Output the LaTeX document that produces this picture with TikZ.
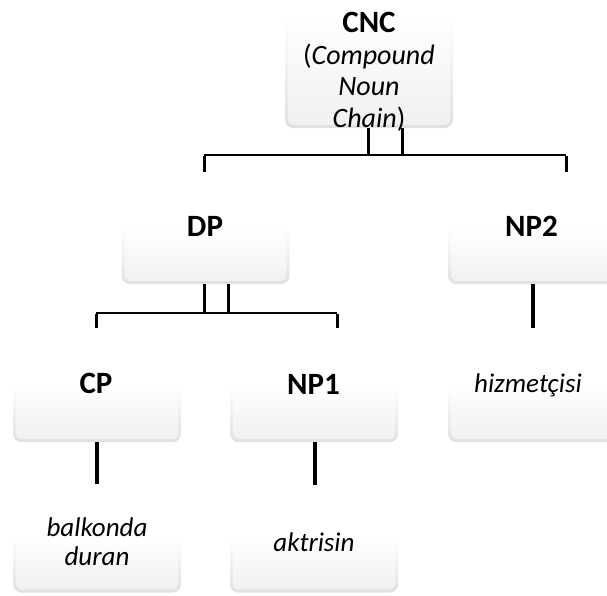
\documentclass[tikz,border=0pt]{standalone}
\usepackage{fontspec}
\setmainfont{Carlito}
\begin{document}
\begin{tikzpicture}[x=1pt,y=-1pt,
  box/.style={rounded corners=8pt, minimum width=168pt, minimum height=57pt,
    inner sep=0pt, top color=white, bottom color=black!12,
    path picture={
      \shade[top color=white, bottom color=black!6, rounded corners=6pt]
        ([shift={(3pt,-2pt)}]path picture bounding box.north west) rectangle
        ([shift={(-3pt,3pt)}]path picture bounding box.south east);
    }},
  head/.style={font=\fontsize{31}{34}\selectfont\bfseries, inner sep=0pt},
  leaf/.style={font=\fontsize{27}{29}\selectfont\itshape, inner sep=0pt, align=center},
  bar/.style={line width=2pt},
  stem/.style={line width=3.5pt},
  pair/.style={line width=3pt},
]
\useasboundingbox (0,0) rectangle (607,595);

% boxes
\node[box, minimum height=113pt] (cnc) at (369,71.5) {};
\node[box] (dp)  at (205.5,255.5) {};
\node[box] (np2) at (532,255.5) {};
\node[box] (cp)  at (97,413.5) {};
\node[box] (np1) at (314,413.5) {};
\node[box] (hiz) at (532,413.5) {};
\node[box] (bal) at (97,564) {};
\node[box] (akt) at (314,564) {};

% labels
\node[anchor=north, align=center, inner sep=0pt,
      font=\fontsize{28}{31.5}\selectfont] (cnct) at (369,12)
  {{\fontsize{31}{31.5}\selectfont\bfseries CNC}\\
   (\textit{Compound}\\
   \textit{Noun}\\
   \textit{Chain})};
\node[head, anchor=base] (dpt)  at (205,236) {DP};
\node[head, anchor=base] (np2t) at (531.5,236) {NP2};
\node[head, anchor=base] (cpt)  at (96,393) {CP};
\node[head, anchor=base] (np1t) at (313.5,394) {NP1};
\node[leaf, anchor=base] (hizt) at (528,392) {hizmetçisi};
\node[leaf, anchor=base] (aktt) at (314,551) {aktrisin};
\node[leaf, anchor=north] (balt) at (97,518) {balkonda\\duran};

% junction points
\coordinate (ca) at (368,155);
\coordinate (cb) at (402,155);
\coordinate (hl) at (204,155);
\coordinate (hr) at (566,155);
\coordinate (hld) at (204,172);
\coordinate (hrd) at (566,172);
\coordinate (da) at (204,313);
\coordinate (db) at (228,313);
\coordinate (dl) at (96,313);
\coordinate (dr) at (337,313);
\coordinate (dld) at (96,328);
\coordinate (drd) at (337,328);
\coordinate (ne) at (533,328);
\coordinate (ce) at (97,484);
\coordinate (ns) at (315,485);

% connectors
\draw[pair] (cnc.south -| ca) -- (ca);
\draw[pair] (cnc.south -| cb) -- (cb);
\draw[bar] (hl) -- (hr);
\draw[pair] ([yshift=-1pt]hl) -- (hld);
\draw[pair] ([yshift=-1pt]hr) -- (hrd);
\draw[pair] (dp.south -| da) -- (da);
\draw[pair] (dp.south -| db) -- (db);
\draw[bar] (dl) -- (dr);
\draw[pair] ([yshift=-1pt]dl) -- (dld);
\draw[pair] ([yshift=-1pt]dr) -- (drd);
\draw[stem] (np2.south -| ne) -- (ne);
\draw[stem] (cp.south -| ce) -- (ce);
\draw[stem] (np1.south -| ns) -- (ns);
\end{tikzpicture}
\end{document}
